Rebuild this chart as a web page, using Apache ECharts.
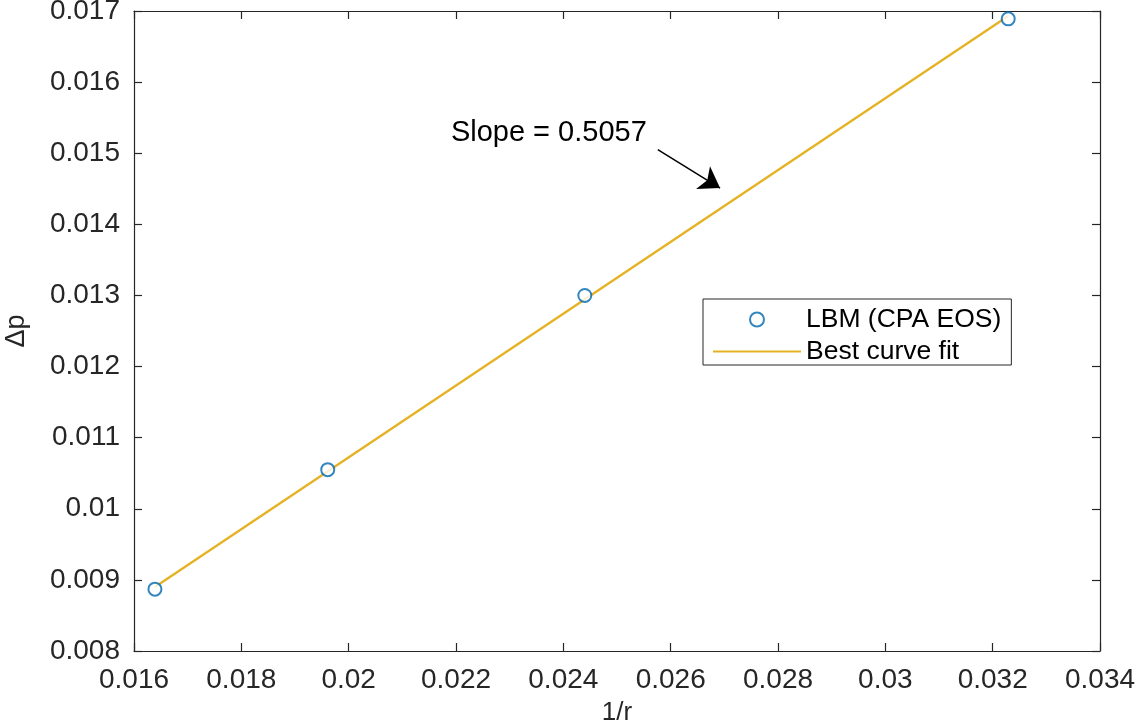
<!DOCTYPE html>
<html>
<head>
<meta charset="utf-8">
<script src="https://cdn.jsdelivr.net/npm/echarts@6/dist/echarts.min.js"></script>
<style>
  html, body { margin: 0; padding: 0; background: #fff; }
  #chart { width: 1143px; height: 727px; }
</style>
</head>
<body>
<div id="chart"></div>
<script>
// LBM data points (1/r vs delta p)
const invR = [0.01639, 0.01961, 0.02440, 0.03229];
const deltaP = [0.00887, 0.01055, 0.01300, 0.01689];

// best fit line end points
const fitX = [0.01639, 0.03229];
const fitY = [0.00890, 0.01693];

// annotation
const slopeText = 'Slope = 0.5057';
const slopeTextAt = [0.02373, 0.01529];
const arrowFrom = [0.02576, 0.01505];
const arrowTo = [0.02692, 0.01451];

// tick labels
const xTickLabels = ['0.016', '0.018', '0.02', '0.022', '0.024', '0.026', '0.028', '0.03', '0.032', '0.034'];
const yTickLabels = ['0.008', '0.009', '0.01', '0.011', '0.012', '0.013', '0.014', '0.015', '0.016', '0.017'];

const FONT = 'Liberation Sans';
const AXIS_COLOR = '#262626';

const chart = echarts.init(document.getElementById('chart'));

const baseAxis = {
  axisLine: { show: true, onZero: false, lineStyle: { color: AXIS_COLOR, width: 1.2 } },
  axisTick: { show: true, inside: true, length: 8, lineStyle: { color: AXIS_COLOR, width: 1.2 } },
  splitLine: { show: false }
};

chart.setOption({
  animation: false,
  backgroundColor: '#fff',
  grid: { left: 134, right: 43, top: 11, bottom: 76, outerBoundsMode: 'none', containLabel: false },
  legend: {
    orient: 'vertical',
    left: 703,
    top: 299,
    padding: [7, 10, 0, 9],
    itemGap: 5,
    itemWidth: 88,
    itemHeight: 14,
    itemTextGap: 9,
    borderColor: AXIS_COLOR,
    borderWidth: 1,
    backgroundColor: '#fff',
    textStyle: { fontFamily: FONT, fontSize: 26.5, color: '#000' },
    data: ['LBM (CPA EOS)', 'Best curve fit']
  },
  xAxis: [
    Object.assign({}, baseAxis, {
      type: 'value', min: 0.016, max: 0.034, interval: 0.002,
      name: '1/r', nameLocation: 'middle', nameGap: 49,
      nameTextStyle: { fontFamily: FONT, fontSize: 26, color: '#262626' },
      axisLabel: {
        fontFamily: FONT, fontSize: 28, color: '#262626', margin: 15,
        formatter: (v, i) => xTickLabels[i]
      }
    }),
    Object.assign({}, baseAxis, {
      type: 'value', min: 0.016, max: 0.034, interval: 0.002,
      position: 'top', axisLabel: { show: false }
    })
  ],
  yAxis: [
    Object.assign({}, baseAxis, {
      type: 'value', min: 0.008, max: 0.017, interval: 0.001,
      name: 'Δp', nameLocation: 'middle', nameGap: 104, nameRotate: 90,
      nameTextStyle: { fontFamily: FONT, fontSize: 27, color: '#262626' },
      axisLabel: {
        fontFamily: FONT, fontSize: 28, color: '#262626', margin: 14,
        formatter: (v, i) => yTickLabels[i]
      }
    }),
    Object.assign({}, baseAxis, {
      type: 'value', min: 0.008, max: 0.017, interval: 0.001,
      position: 'right', axisLabel: { show: false }
    })
  ],
  series: [
    {
      name: 'Best curve fit',
      type: 'line',
      data: fitX.map((x, i) => [x, fitY[i]]),
      symbol: 'none',
      lineStyle: { color: '#E6B225', width: 2.4 },
      itemStyle: { color: 'rgba(0,0,0,0)' },
      z: 2,
      markLine: {
        silent: true,
        symbol: ['none', 'arrow'],
        symbolSize: 20,
        label: { show: false },
        lineStyle: { color: '#000', width: 1.5, type: 'solid' },
        itemStyle: { color: '#000' },
        data: [[{ coord: arrowFrom }, { coord: arrowTo }]]
      },
      markPoint: {
        silent: true,
        symbol: 'circle',
        symbolSize: 0,
        label: {
          show: true, position: 'inside', formatter: slopeText,
          fontFamily: FONT, fontSize: 29, color: '#000'
        },
        data: [{ coord: slopeTextAt }]
      }
    },
    {
      name: 'LBM (CPA EOS)',
      type: 'scatter',
      data: invR.map((x, i) => [x, deltaP[i]]),
      symbol: 'emptyCircle',
      symbolSize: 13,
      itemStyle: { color: '#0068AE', borderColor: '#0068AE', borderWidth: 3.5 },
      z: 3
    }
  ]
});
</script>
</body>
</html>
